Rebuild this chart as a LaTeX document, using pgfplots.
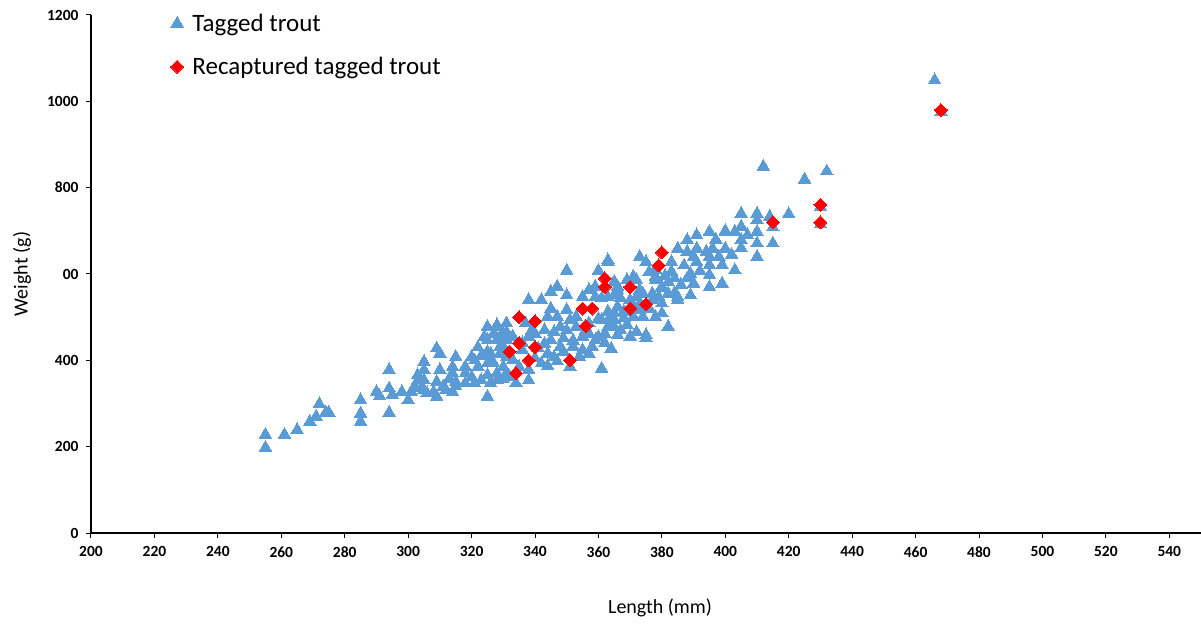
\documentclass[border=0pt]{standalone}
\usepackage{fontspec}
\setmainfont{Carlito}
\usepackage{pgfplots}
\usepackage{pgfplotstable}
\pgfplotsset{compat=1.18}
\definecolor{tblue}{HTML}{5B9BD5}
\definecolor{tred}{HTML}{FF0000}
\pgfplotstableread{
x y
255 228
255 198
261 228
265 239
269 258
271 270
272 299
274 279
275 279
285 308
285 277
285 258
290 327
291 317
294 279
294 378
294 335
295 320
298 327
300 308
301 327
302 339
303 354
303 366
304 335
305 397
305 378
305 354
305 331
306 324
309 428
310 416
309 350
308 327
309 316
310 378
311 339
312 331
313 358
314 385
314 370
315 408
315 350
314 327
315 340
318 385
318 370
318 347
320 408
320 362
321 347
322 385
323 354
325 393
325 366
326 347
325 316
325 420
325 447
325 478
328 478
330 463
329 416
330 385
332 362
333 401
330 358
328 370
327 393
331 447
331 466
328 447
329 432
326 401
331 408
322 430
324 455
327 462
323 410
321 400
350 608
363 628
360 608
373 640
375 628
383 628
384 590
376 605
378 594
372 586
369 586
365 582
366 563
357 563
355 547
359 547
363 547
367 544
350 551
347 571
345 559
342 540
338 540
345 520
344 501
347 501
350 517
351 493
348 478
353 478
353 501
346 466
343 470
339 470
337 486
331 486
328 482
329 455
333 455
338 455
330 432
326 416
336 424
343 439
345 447
348 432
349 451
344 416
342 393
338 378
335 385
331 370
328 354
338 354
334 347
351 385
355 424
352 432
355 455
357 462
359 447
354 408
357 416
361 381
363 478
365 478
366 459
369 482
372 466
375 451
365 493
368 513
366 524
363 513
360 497
357 486
363 493
372 547
373 563
377 555
380 571
382 555
380 532
378 501
380 509
382 478
385 540
373 517
374 501
371 501
370 540
340 462
336 440
341 428
346 408
349 420
352 446
340 405
344 387
347 398
350 470
356 470
358 432
362 440
364 427
362 462
367 470
370 455
368 498
371 520
376 520
377 540
373 530
384 556
386 575
388 590
392 607
398 640
395 640
402 645
405 660
407 690
397 680
390 640
387 620
383 606
378 610
381 596
405 740
410 740
414 733
405 710
410 698
415 671
410 671
410 640
405 679
400 698
403 698
395 698
391 690
388 679
385 659
388 652
391 659
394 652
396 659
400 659
391 628
395 621
399 621
403 609
395 598
389 601
390 578
399 578
395 570
389 551
385 547
375 459
363 632
371 594
378 586
382 582
380 567
374 555
379 547
366 571
359 571
361 544
365 551
361 493
365 509
360 455
412 849
425 819
432 838
420 739
410 725
400 700
415 708
430 755
430 715
466 1049
468 975
}\tagged
\pgfplotstableread{
x y
335 500
340 490
335 440
332 420
340 430
338 400
334 370
351 400
355 520
358 520
356 480
362 590
362 570
370 570
370 520
375 530
380 650
379 620
415 720
430 760
430 720
468 980
}\recap
\begin{document}
\begin{tikzpicture}
\begin{axis}[
  scale only axis, width=1110pt, height=518pt,
  xmin=200, xmax=550, ymin=0, ymax=1200,
  axis x line*=bottom, axis y line*=left,
  axis line style={line width=1.2pt, black, -},
  xtick={200,220,...,540}, ytick={0,200,...,1200},
  yticklabels={0,200,400,\phantom{6}00,800,1000,1200},
  tick align=outside, major tick length=5pt,
  tick style={line width=1pt, black},
  /pgf/number format/assume math mode=true,
  ticklabel style={font=\fontsize{15.5}{18}\selectfont\bfseries},
  yticklabel style={xshift=-4pt},
  xticklabel style={yshift=-5pt},
  xlabel={Length (mm)}, ylabel={Weight (g)},
  label style={font=\fontsize{20}{24}\selectfont},
  xlabel style={at={(axis description cs:0.5126,-0.1448)}, anchor=center},
  ylabel style={at={(axis description cs:-0.0622,0.5)}, anchor=center},
  legend style={at={(axis description cs:0,1)}, anchor=north west,
    xshift=79pt, yshift=1pt, draw=none, fill=none,
    font=\fontsize{25}{30}\selectfont, row sep=24.5pt, column sep=0pt,
    inner sep=0pt, outer sep=0pt, nodes={inner sep=0pt}, cells={anchor=west}},
  legend image code/.code={\draw[#1] plot coordinates {(0pt,0pt)}; \path (-7pt,0pt) (15pt,0pt);},
]
\addplot[only marks, mark=triangle*, mark size=7.2pt, color=tblue, mark options={fill=tblue, draw=tblue, line width=0pt}] table[x=x,y=y] {\tagged};
\addlegendentry{Tagged trout}
\addplot[only marks, mark=square*, mark size=4.6pt, color=tred, mark options={rotate=45, fill=tred, draw=tred, line width=0pt}] table[x=x,y=y] {\recap};
\addlegendentry{Recaptured tagged trout}
\end{axis}
\pgfresetboundingbox
\path[use as bounding box] ([xshift=-91pt,yshift=-92pt]current axis.south west) rectangle ([yshift=15pt]current axis.north east);
\end{tikzpicture}
\end{document}
